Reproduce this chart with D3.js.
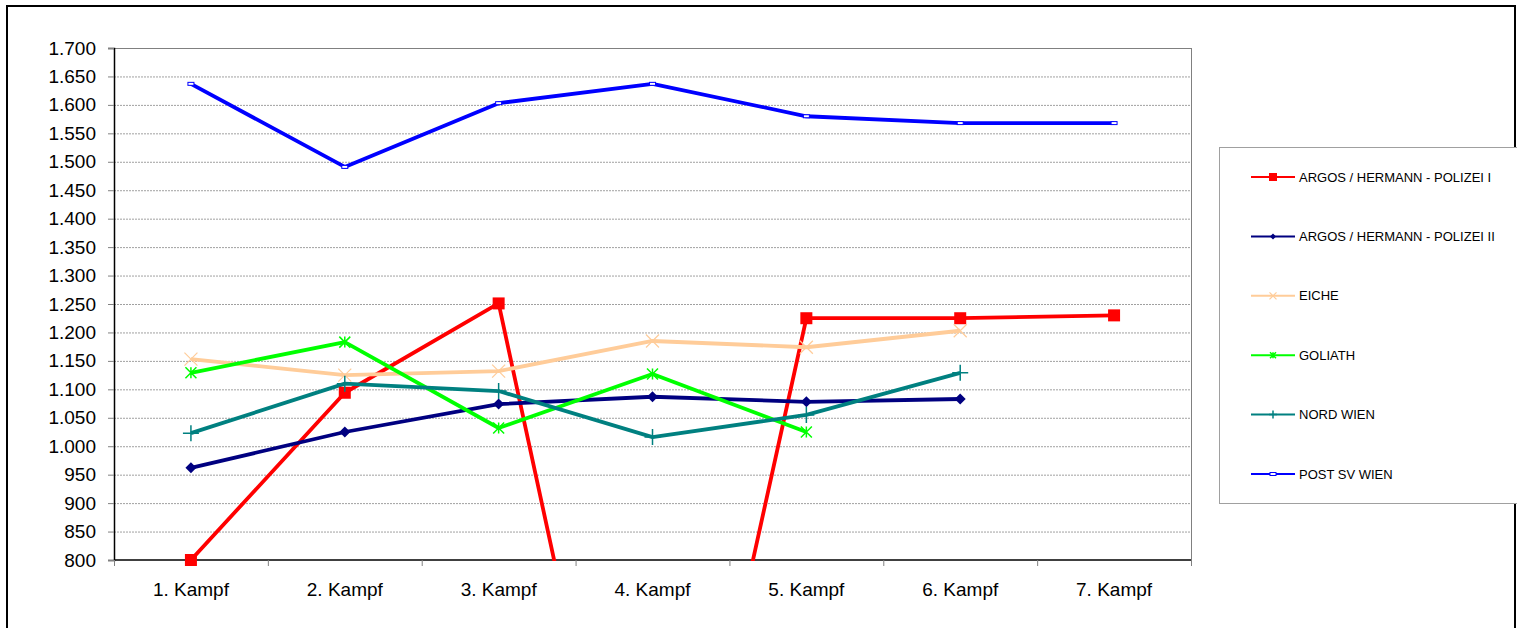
<!DOCTYPE html>
<html><head><meta charset="utf-8">
<script src="https://cdn.jsdelivr.net/npm/d3@7"></script>
<style>body{margin:0;background:#fff}svg{display:block;font-family:"Liberation Sans",Arial,sans-serif}</style>
</head><body><svg id="c" width="1517" height="628"></svg>
<script>
const categories = ["1. Kampf","2. Kampf","3. Kampf","4. Kampf","5. Kampf","6. Kampf","7. Kampf"];
const yTicks = [800,850,900,950,1000,1050,1100,1150,1200,1250,1300,1350,1400,1450,1500,1550,1600,1650,1700];
const seriesNames = ["ARGOS / HERMANN - POLIZEI I","ARGOS / HERMANN - POLIZEI II","EICHE","GOLIATH","NORD WIEN","POST SV WIEN"];
const polizei1 = [800,1094,1251,0,1225,1225,1230];
const polizei2 = [962,1025,1074,1087,1078,1083,null];
const eiche = [1153,1125,1132,1185,1174,1203,null];
const goliath = [1129,1183,1032,1127,1025,null,null];
const nordWien = [1023,1110,1097,1016,1055,1129,null];
const postSv = [1637,1491,1603,1637,1580,1568,1568];
const colors = ["#ff0000","#000080","#ffcc99","#00ff00","#008080","#0000ff"];
const markers = ["square","diamond","x","star","plus","dash"];
const allSeries = [polizei1,polizei2,eiche,goliath,nordWien,postSv];

const svg = d3.select("#c");
const L=114,T=48,R=1191,B=560;
svg.append("rect").attr("x",7).attr("y",6).attr("width",1508).attr("height",640).attr("fill","none").attr("stroke","#000").attr("stroke-width",2);

const x = d3.scaleBand().domain(categories).range([L,R]).padding(0);
const y = d3.scaleLinear().domain([800,1700]).range([B,T]);

svg.append("g").selectAll("line").data(yTicks.slice(1)).join("line")
  .attr("x1",L).attr("x2",R).attr("y1",d=>y(d)+0.5).attr("y2",d=>y(d)+0.5)
  .attr("stroke","#a0a0a0").attr("stroke-width",1).attr("stroke-dasharray","2,1");
svg.append("line").attr("x1",L).attr("x2",R+0.5).attr("y1",T+0.5).attr("y2",T+0.5).attr("stroke","#808080");
svg.append("line").attr("x1",R+0.5).attr("x2",R+0.5).attr("y1",T).attr("y2",B).attr("stroke","#808080");

const ya = svg.append("g").attr("transform",`translate(${L},0)`)
  .call(d3.axisLeft(y).tickValues(yTicks).tickSize(6).tickPadding(12).tickFormat(d=>d3.format(",")(d).replace(",",".")));
ya.select(".domain").attr("stroke","#000").attr("stroke-width",1.5);
ya.selectAll(".tick line").attr("stroke","#808080");
ya.selectAll("text").attr("font-size",19).attr("fill","#000").attr("font-family","Liberation Sans, Arial, sans-serif");

const xa = svg.append("g").attr("transform",`translate(0,${B})`)
  .call(d3.axisBottom(x).tickSize(0).tickPadding(23));
xa.select(".domain").remove();
xa.selectAll("text").attr("font-size",19).attr("fill","#000").attr("font-family","Liberation Sans, Arial, sans-serif");
svg.append("line").attr("x1",L).attr("x2",R).attr("y1",B).attr("y2",B).attr("stroke","#000").attr("stroke-width",1.5);
svg.append("g").selectAll("line").data(categories.map((c,i)=>i).concat([7])).join("line")
  .attr("x1",i=>L+i*x.bandwidth()+0.5).attr("x2",i=>L+i*x.bandwidth()+0.5)
  .attr("y1",B).attr("y2",B+6).attr("stroke","#808080");

svg.append("clipPath").attr("id","clip").append("rect").attr("x",L).attr("y",T).attr("width",R-L).attr("height",B-T+1);

function drawMarker(g,type,cx,cy,color,s){
  if(type==="square") g.append("rect").attr("x",cx-s/2).attr("y",cy-s/2).attr("width",s).attr("height",s).attr("fill",color);
  else if(type==="diamond") g.append("path").attr("d",`M${cx},${cy-s/2}L${cx+s/2},${cy}L${cx},${cy+s/2}L${cx-s/2},${cy}Z`).attr("fill",color);
  else if(type==="x") g.append("path").attr("d",`M${cx-s/2},${cy-s/2}L${cx+s/2},${cy+s/2}M${cx-s/2},${cy+s/2}L${cx+s/2},${cy-s/2}`).attr("stroke",color).attr("stroke-width",1.2);
  else if(type==="star") g.append("path").attr("d",`M${cx-s/2},${cy-s/2}L${cx+s/2},${cy+s/2}M${cx-s/2},${cy+s/2}L${cx+s/2},${cy-s/2}M${cx},${cy-s/2}L${cx},${cy+s/2}`).attr("stroke",color).attr("stroke-width",1.5);
  else if(type==="plus") g.append("path").attr("d",`M${cx-s/2},${cy}L${cx+s/2},${cy}M${cx},${cy-s/2}L${cx},${cy+s/2}`).attr("stroke",color).attr("stroke-width",1.5);
  else if(type==="dash") g.append("rect").attr("x",cx-3).attr("y",cy-1.5).attr("width",6).attr("height",3).attr("fill","#fff").attr("stroke",color).attr("stroke-width",1);
}
const msize=[12,11,13,11,16,6];
const line = d3.line().defined(d=>d.v!=null).x(d=>x(d.c)+x.bandwidth()/2).y(d=>y(d.v));
const plot = svg.append("g").attr("clip-path","url(#clip)");
const plotM = svg.append("g");
allSeries.forEach((vals,si)=>{
  const pts = vals.map((v,i)=>({c:categories[i],v}));
  plot.append("path").datum(pts).attr("d",line).attr("fill","none").attr("stroke",colors[si]).attr("stroke-width",3.8).attr("stroke-linejoin","round");
  pts.forEach(p=>{ if(p.v!=null && p.v>=800) drawMarker(plotM,markers[si],x(p.c)+x.bandwidth()/2,y(p.v),colors[si],msize[si]); });
});

const lg = svg.append("g");
lg.append("rect").attr("x",1219.5).attr("y",147.5).attr("width",310).attr("height",356).attr("fill","#fff").attr("stroke","#a0a0a0");
seriesNames.forEach((n,i)=>{
  const ly = 177+i*59.4;
  lg.append("line").attr("x1",1251).attr("x2",1295).attr("y1",ly).attr("y2",ly).attr("stroke",colors[i]).attr("stroke-width",2);
  drawMarker(lg,markers[i],1273,ly,colors[i],[8,6,7,6,8,4][i]);
  lg.append("text").attr("x",1299).attr("y",ly+4.5).attr("font-size",13).attr("fill","#000").text(n);
});
</script></body></html>
